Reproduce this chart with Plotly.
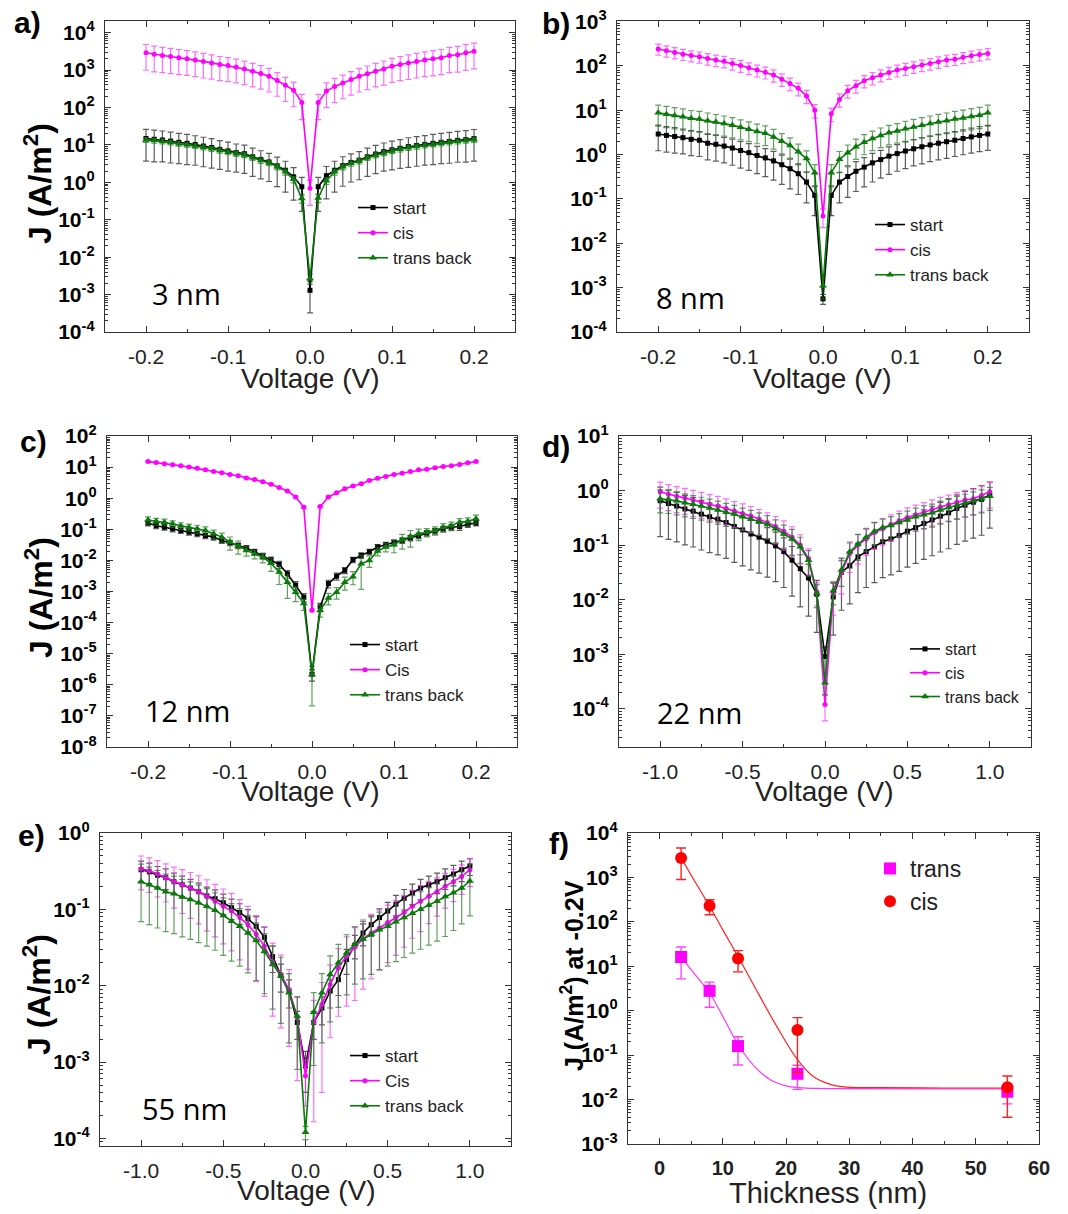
"""
J-V curves of the switchable junctions for five thicknesses, and J at -0.2 V vs thickness.
"""

import plotly.graph_objects as go

FONT = "Liberation Sans"
NM_FONT = "Open Sans"
W, H = 1068, 1214
PAGE_OFFSET = 8  # the html body adds an 8 px margin around the figure

# ---------------------------------------------------------------- data
V_SMALL = [-0.20, -0.19, -0.18, -0.17, -0.16, -0.15, -0.14, -0.13, -0.12, -0.11,
           -0.10, -0.09, -0.08, -0.07, -0.06, -0.05, -0.04, -0.03, -0.02, -0.01,
           0.00, 0.01, 0.02, 0.03, 0.04, 0.05, 0.06, 0.07, 0.08, 0.09,
           0.10, 0.11, 0.12, 0.13, 0.14, 0.15, 0.16, 0.17, 0.18, 0.19, 0.20]
V_WIDE = [-1.00, -0.95, -0.90, -0.85, -0.80, -0.75, -0.70, -0.65, -0.60, -0.55,
          -0.50, -0.45, -0.40, -0.35, -0.30, -0.25, -0.20, -0.15, -0.10, -0.05,
          0.00, 0.05, 0.10, 0.15, 0.20, 0.25, 0.30, 0.35, 0.40, 0.45,
          0.50, 0.55, 0.60, 0.65, 0.70, 0.75, 0.80, 0.85, 0.90, 0.95, 1.00]

# a) 3 nm
A_START = [14.8, 14.1, 13.5, 12.6, 11.7, 11.0, 10.2, 9.3, 8.5, 7.6, 6.9, 6.2, 5.8, 4.8,
           4.1, 3.5, 2.75, 2.1, 1.4, 0.76, 1.3e-3, 0.76, 1.5, 2.1, 2.8, 3.4, 3.9, 4.8,
           5.7, 6.6, 7.4, 8.1, 9.0, 9.6, 10.3, 11.0, 11.7, 12.4, 13.2, 13.8, 14.7]
A_CIS = [2900, 2630, 2450, 2290, 2140, 2000, 1860, 1700, 1550, 1410, 1320, 1200, 1070,
         930, 810, 680, 525, 390, 290, 135, 0.69, 135, 275, 365, 450, 560, 680, 790,
         930, 1070, 1260, 1410, 1550, 1700, 1860, 2000, 2140, 2450, 2570, 2880, 3160]
A_TRANS = [13.6, 13.0, 12.4, 11.6, 10.8, 10.1, 9.4, 8.6, 7.9, 7.1, 6.4, 5.8, 5.4, 4.5,
           3.8, 3.3, 2.6, 1.9, 1.2, 0.37, 2.7e-3, 0.38, 1.1, 1.9, 2.6, 3.2, 3.7, 4.5,
           5.3, 6.1, 6.9, 7.6, 8.4, 9.0, 9.7, 10.3, 11.0, 11.7, 12.4, 13.0, 13.8]
# relative error bars (error / value)
A_START_REL = [0.75, 0.75, 0.74, 0.74, 0.73, 0.73, 0.72, 0.72, 0.72, 0.71, 0.71, 0.70,
               0.70, 0.70, 0.70, 0.70, 0.72, 0.74, 0.76, 0.78, 0.75, 0.78, 0.76, 0.74,
               0.72, 0.70, 0.70, 0.70, 0.70, 0.70, 0.71, 0.71, 0.72, 0.72, 0.72, 0.73,
               0.73, 0.74, 0.74, 0.75, 0.75]
A_CIS_REL = [0.66, 0.66, 0.65, 0.65, 0.65, 0.64, 0.64, 0.64, 0.63, 0.63, 0.63, 0.62,
             0.62, 0.62, 0.62, 0.62, 0.62, 0.63, 0.64, 0.65, 0.65, 0.65, 0.64, 0.63,
             0.62, 0.62, 0.62, 0.62, 0.62, 0.63, 0.63, 0.63, 0.64, 0.64, 0.64, 0.65,
             0.65, 0.65, 0.66, 0.66, 0.66]
A_TRANS_REL = [0.15, 0.15, 0.15, 0.14, 0.14, 0.14, 0.14, 0.15, 0.15, 0.15, 0.15, 0.15,
               0.15, 0.15, 0.16, 0.16, 0.17, 0.18, 0.20, 0.25, 0.30, 0.25, 0.20, 0.18,
               0.17, 0.16, 0.16, 0.15, 0.15, 0.15, 0.15, 0.15, 0.15, 0.15, 0.14, 0.14,
               0.14, 0.14, 0.15, 0.15, 0.15]

# b) 8 nm
B_START = [2.9, 2.7, 2.55, 2.4, 2.2, 2.1, 1.8, 1.7, 1.55, 1.4, 1.23, 1.1, 0.95, 0.84,
           0.72, 0.59, 0.48, 0.37, 0.24, 0.12, 5.6e-4, 0.12, 0.24, 0.32, 0.42, 0.52,
           0.65, 0.77, 0.92, 1.05, 1.2, 1.35, 1.5, 1.65, 1.8, 1.95, 2.1, 2.3, 2.5, 2.7, 2.9]
B_CIS = [240, 219, 200, 183, 170, 160, 146, 135, 126, 113, 102, 90, 80, 72, 62, 50, 40,
         31, 21, 10, 0.041, 8.3, 17.5, 27.5, 35.5, 46, 54, 62, 71, 80, 87, 95, 104, 113,
         123, 135, 141, 155, 168, 180, 190]
B_TRANS = [8.7, 8.1, 7.6, 7.1, 6.6, 6.3, 5.8, 5.4, 5.0, 4.6, 4.1, 3.7, 3.3, 3.0, 2.5,
           2.0, 1.6, 1.15, 0.81, 0.39, 1.1e-3, 0.39, 0.78, 1.1, 1.5, 1.9, 2.3, 2.7, 3.1,
           3.4, 3.8, 4.2, 4.6, 5.0, 5.4, 5.8, 6.3, 6.7, 7.2, 7.7, 8.7]
B_START_REL = [0.58, 0.58, 0.58, 0.57, 0.57, 0.57, 0.58, 0.58, 0.58, 0.59, 0.60, 0.60,
               0.61, 0.62, 0.63, 0.64, 0.65, 0.66, 0.66, 0.65, 0.25, 0.65, 0.66, 0.66,
               0.65, 0.64, 0.63, 0.62, 0.61, 0.60, 0.60, 0.59, 0.59, 0.58, 0.58, 0.58,
               0.57, 0.57, 0.57, 0.57, 0.57]
B_CIS_REL = [0.28, 0.28, 0.28, 0.28, 0.28, 0.28, 0.29, 0.29, 0.29, 0.29, 0.30, 0.30,
             0.30, 0.30, 0.31, 0.31, 0.32, 0.32, 0.33, 0.34, 0.45, 0.34, 0.33, 0.32,
             0.32, 0.31, 0.31, 0.30, 0.30, 0.30, 0.30, 0.29, 0.29, 0.29, 0.29, 0.28,
             0.28, 0.28, 0.28, 0.28, 0.28]
B_TRANS_REL = [0.50, 0.50, 0.50, 0.50, 0.49, 0.49, 0.49, 0.48, 0.48, 0.48, 0.48, 0.47,
               0.47, 0.47, 0.47, 0.48, 0.48, 0.49, 0.50, 0.52, 0.50, 0.52, 0.50, 0.49,
               0.48, 0.48, 0.47, 0.47, 0.47, 0.47, 0.48, 0.48, 0.48, 0.48, 0.49, 0.49,
               0.49, 0.50, 0.50, 0.50, 0.50]

# c) 12 nm
C_START = [0.16, 0.13, 0.117, 0.104, 0.092, 0.081, 0.072, 0.063, 0.056, 0.044, 0.037,
           0.030, 0.025, 0.019, 0.0138, 0.0105, 0.0074, 0.0037, 0.0016, 6.6e-4, 2.2e-6,
           3.2e-4, 1.8e-3, 3.1e-3, 4.8e-3, 0.0105, 0.0145, 0.019, 0.027, 0.032, 0.037,
           0.044, 0.053, 0.063, 0.076, 0.088, 0.104, 0.117, 0.123, 0.144, 0.16]
C_CIS = [15, 14, 12.8, 11.8, 11, 10, 9.1, 8.2, 7.2, 6.6, 5.8, 5.3, 4.5, 4.0, 3.4, 2.8,
         2.2, 1.7, 1.1, 0.51, 2.5e-4, 0.54, 1.1, 1.5, 2.0, 2.45, 2.9, 3.7, 4.4, 5.0, 5.8,
         6.4, 7.2, 8.2, 8.6, 9.5, 10.5, 11, 12.2, 13.8, 15]
C_TRANS = [0.20, 0.18, 0.17, 0.15, 0.13, 0.117, 0.104, 0.092, 0.072, 0.056, 0.039, 0.029,
           0.021, 0.016, 0.0128, 0.0081, 0.0042, 0.0020, 9.5e-4, 4.1e-4, 2.1e-6, 2.5e-4,
           6.2e-4, 9.5e-4, 2.0e-3, 3.0e-3, 7.8e-3, 0.010, 0.020, 0.027, 0.032, 0.046,
           0.059, 0.072, 0.081, 0.092, 0.117, 0.13, 0.17, 0.18, 0.22]
C_START_REL = [0.20, 0.20, 0.20, 0.20, 0.20, 0.20, 0.20, 0.20, 0.20, 0.20, 0.20, 0.20,
               0.20, 0.20, 0.20, 0.22, 0.25, 0.28, 0.30, 0.30, 0.40, 0.30, 0.28, 0.25,
               0.22, 0.20, 0.20, 0.20, 0.20, 0.20, 0.20, 0.20, 0.20, 0.20, 0.20, 0.20,
               0.20, 0.20, 0.25, 0.20, 0.20]
C_TRANS_REL = [0.25, 0.25, 0.25, 0.25, 0.25, 0.25, 0.30, 0.30, 0.30, 0.35, 0.45, 0.45,
               0.35, 0.30, 0.35, 0.45, 0.60, 0.70, 0.50, 0.40, 0.90, 0.40, 0.40, 0.40,
               0.45, 0.45, 0.85, 0.40, 0.30, 0.30, 0.45, 0.50, 0.55, 0.40, 0.30, 0.30,
               0.30, 0.30, 0.30, 0.30, 0.30]
C_CIS_REL = [0.05, 0.05, 0.05, 0.05, 0.05, 0.05, 0.05, 0.05, 0.05, 0.05, 0.05, 0.05,
             0.05, 0.05, 0.05, 0.05, 0.05, 0.05, 0.06, 0.08, 0.10, 0.08, 0.06, 0.05,
             0.05, 0.05, 0.05, 0.05, 0.05, 0.05, 0.05, 0.05, 0.05, 0.05, 0.05, 0.05,
             0.05, 0.05, 0.05, 0.05, 0.05]

# d) 22 nm
D_START = [0.65, 0.58, 0.52, 0.46, 0.42, 0.37, 0.33, 0.30, 0.26, 0.22, 0.19, 0.16, 0.14,
           0.118, 0.097, 0.076, 0.053, 0.037, 0.025, 0.0126, 9.1e-4, 0.0112, 0.032, 0.042,
           0.061, 0.076, 0.093, 0.115, 0.13, 0.15, 0.18, 0.21, 0.25, 0.29, 0.34, 0.39,
           0.47, 0.54, 0.61, 0.69, 0.82]
D_CIS = [0.95, 0.86, 0.79, 0.73, 0.67, 0.62, 0.56, 0.52, 0.47, 0.42, 0.38, 0.34, 0.30,
         0.26, 0.22, 0.18, 0.14, 0.10, 0.057, 0.014, 1.2e-4, 0.013, 0.032, 0.070, 0.10,
         0.13, 0.17, 0.20, 0.24, 0.28, 0.32, 0.36, 0.40, 0.45, 0.50, 0.55, 0.61, 0.67,
         0.71, 0.81, 0.95]
D_TRANS = [0.71, 0.69, 0.65, 0.60, 0.56, 0.52, 0.48, 0.44, 0.40, 0.37, 0.33, 0.30, 0.27,
           0.24, 0.20, 0.16, 0.13, 0.093, 0.053, 0.013, 3.0e-4, 0.0146, 0.035, 0.076,
           0.105, 0.14, 0.18, 0.21, 0.23, 0.26, 0.29, 0.33, 0.36, 0.39, 0.44, 0.49, 0.54,
           0.59, 0.65, 0.71, 0.79]
D_START_REL = [0.78, 0.78, 0.78, 0.78, 0.78, 0.78, 0.78, 0.78, 0.78, 0.78, 0.78, 0.78,
               0.78, 0.78, 0.78, 0.78, 0.78, 0.80, 0.80, 0.80, 0.50, 0.80, 0.80, 0.80,
               0.78, 0.78, 0.78, 0.78, 0.78, 0.78, 0.78, 0.78, 0.78, 0.78, 0.78, 0.78,
               0.78, 0.78, 0.78, 0.78, 0.75]
D_CIS_REL = [0.50, 0.50, 0.50, 0.50, 0.50, 0.50, 0.50, 0.50, 0.50, 0.50, 0.50, 0.50,
             0.50, 0.50, 0.52, 0.55, 0.55, 0.55, 0.50, 0.45, 0.50, 0.60, 0.60, 0.55,
             0.55, 0.50, 0.50, 0.50, 0.50, 0.50, 0.50, 0.50, 0.50, 0.50, 0.50, 0.50,
             0.50, 0.50, 0.50, 0.50, 0.50]
D_TRANS_REL = [0.45, 0.45, 0.45, 0.45, 0.45, 0.45, 0.45, 0.45, 0.45, 0.45, 0.45, 0.45,
               0.45, 0.45, 0.45, 0.45, 0.50, 0.50, 0.50, 0.45, 0.40, 0.45, 0.50, 0.50,
               0.50, 0.45, 0.45, 0.45, 0.45, 0.45, 0.45, 0.45, 0.45, 0.45, 0.45, 0.45,
               0.45, 0.45, 0.45, 0.45, 0.45]

# e) 55 nm
E_START = [0.33, 0.31, 0.28, 0.26, 0.23, 0.21, 0.19, 0.17, 0.15, 0.138, 0.122, 0.105,
           0.091, 0.075, 0.060, 0.043, 0.024, 0.0137, 0.0085, 0.0033, 8.9e-4, 0.0033,
           0.0051, 0.0085, 0.012, 0.022, 0.034, 0.049, 0.063, 0.078, 0.095, 0.117, 0.14,
           0.165, 0.19, 0.21, 0.23, 0.26, 0.29, 0.33, 0.37]
E_CIS = [0.34, 0.32, 0.29, 0.26, 0.23, 0.21, 0.19, 0.17, 0.148, 0.128, 0.11, 0.095, 0.078,
         0.063, 0.047, 0.033, 0.020, 0.014, 0.0089, 0.0038, 6.6e-4, 0.0033, 0.0057, 0.0104,
         0.0173, 0.0245, 0.032, 0.041, 0.049, 0.057, 0.067, 0.078, 0.091, 0.11, 0.128,
         0.148, 0.17, 0.20, 0.23, 0.27, 0.33]
E_TRANS = [0.23, 0.21, 0.19, 0.17, 0.16, 0.145, 0.135, 0.122, 0.11, 0.097, 0.083, 0.070,
           0.060, 0.049, 0.039, 0.028, 0.019, 0.0134, 0.0081, 0.0040, 1.2e-4, 0.0045,
           0.0081, 0.014, 0.020, 0.027, 0.035, 0.041, 0.047, 0.054, 0.060, 0.069, 0.078,
           0.089, 0.10, 0.113, 0.128, 0.147, 0.165, 0.19, 0.235]
E_START_REL = [0.30, 0.30, 0.30, 0.30, 0.30, 0.30, 0.30, 0.30, 0.30, 0.30, 0.30, 0.30,
               0.30, 0.32, 0.34, 0.36, 0.38, 0.40, 0.40, 0.40, 0.55, 0.40, 0.40, 0.40,
               0.38, 0.36, 0.34, 0.32, 0.30, 0.30, 0.30, 0.30, 0.30, 0.30, 0.30, 0.30,
               0.30, 0.30, 0.30, 0.30, 0.25]
E_CIS_REL = [0.47, 0.48, 0.50, 0.52, 0.55, 0.58, 0.60, 0.62, 0.65, 0.66, 0.68, 0.70,
             0.72, 0.74, 0.76, 0.78, 0.80, 0.80, 0.82, 0.85, 0.60, 0.95, 0.93, 0.80,
             0.77, 0.78, 0.80, 0.78, 0.75, 0.72, 0.70, 0.68, 0.65, 0.62, 0.60, 0.56,
             0.52, 0.48, 0.45, 0.42, 0.40]
E_TRANS_REL = [0.70, 0.70, 0.70, 0.70, 0.70, 0.70, 0.70, 0.70, 0.70, 0.70, 0.70, 0.70,
               0.70, 0.70, 0.70, 0.72, 0.74, 0.76, 0.78, 0.80, 0.20, 0.80, 0.78, 0.76,
               0.74, 0.72, 0.70, 0.70, 0.70, 0.70, 0.70, 0.70, 0.70, 0.70, 0.70, 0.70,
               0.70, 0.70, 0.68, 0.66, 0.65]

# f) J at -0.2 V vs thickness
F_THICK = [3.4, 7.9, 12.4, 21.8, 55]
F_TRANS = [16.2, 2.8, 0.16, 0.038, 0.015]
F_TRANS_ERR = [11, 1.6, 0.1, 0.021, 0.007]
F_CIS = [2750, 230, 15, 0.37, 0.019]
F_CIS_ERR = [1850, 85, 7.5, 0.33, 0.015]
F_CIS_FIT_X = [3.4, 5, 7.9, 10, 12.4, 15, 18.5, 21.8, 24.3, 27, 29.6, 35, 45, 55]
F_CIS_FIT_Y = [2750, 1120, 225, 66, 16.6, 3.5, 0.45, 0.079, 0.033, 0.022, 0.019, 0.0186,
               0.0182, 0.0182]
F_TRANS_FIT_X = [3.4, 5, 7.9, 10, 12.4, 15, 17.5, 20, 22, 25, 30, 40, 55]
F_TRANS_FIT_Y = [16.2, 8.3, 2.5, 0.74, 0.174, 0.056, 0.028, 0.0204, 0.0186, 0.0178,
                 0.0176, 0.0174, 0.0174]

# decade tick labels for each panel
A_DECADES = [-4, -3, -2, -1, 0, 1, 2, 3, 4]
B_DECADES = [-4, -3, -2, -1, 0, 1, 2, 3]
C_DECADES = [-8, -7, -6, -5, -4, -3, -2, -1, 0, 1, 2]
D_DECADES = [-4, -3, -2, -1, 0, 1]
E_DECADES = [-4, -3, -2, -1, 0]
F_DECADES = [-3, -2, -1, 0, 1, 2, 3, 4]

SMALL_TICKS = [-0.2, -0.1, 0.0, 0.1, 0.2]
SMALL_TEXT = ["-0.2", "-0.1", "0.0", "0.1", "0.2"]
WIDE_TICKS = [-1.0, -0.5, 0.0, 0.5, 1.0]
WIDE_TEXT = ["-1.0", "-0.5", "0.0", "0.5", "1.0"]
THICK_TICKS = [0, 10, 20, 30, 40, 50, 60]

# ---------------------------------------------------------------- styles
COLORS = {"start": "#000000", "cis": "#ff00ff", "trans": "#0a7a0a"}
ERR_COLORS = {
    "start": "rgba(50,50,50,0.8)",
    "cis": "rgba(255,60,255,0.75)",
    "trans": "rgba(30,120,30,0.7)",
}
MARKERS = {
    "start": dict(symbol="square", size=5),
    "cis": dict(symbol="circle", size=5),
    "trans": dict(symbol="triangle-up", size=7),
}

# panel boxes in page pixels: (left, top, right, bottom)
PANELS = [
    dict(box=(105, 21, 515, 332), x=V_SMALL, xr=[-0.25, 0.25], yr=[-4, 4.31],
         dec=A_DECADES, ticks=(SMALL_TICKS, SMALL_TEXT), minor=0.05,
         series=[(A_START, A_START_REL, "start", "start"),
                 (A_CIS, A_CIS_REL, "cis", "cis"),
                 (A_TRANS, A_TRANS_REL, "trans", "trans back")],
         legend=(353, 233), fs=17),
    dict(box=(617, 21, 1029, 332), x=V_SMALL, xr=[-0.25, 0.25], yr=[-4, 3.01],
         dec=B_DECADES, ticks=(SMALL_TICKS, SMALL_TEXT), minor=0.05,
         series=[(B_START, B_START_REL, "start", "start"),
                 (B_CIS, B_CIS_REL, "cis", "cis"),
                 (B_TRANS, B_TRANS_REL, "trans", "trans back")],
         legend=(870, 250), fs=17),
    dict(box=(107, 436, 517, 747), x=V_SMALL, xr=[-0.25, 0.25], yr=[-8, 2],
         dec=C_DECADES, ticks=(SMALL_TICKS, SMALL_TEXT), minor=0.05,
         series=[(C_START, C_START_REL, "start", "start"),
                 (C_CIS, C_CIS_REL, "cis", "Cis"),
                 (C_TRANS, C_TRANS_REL, "trans", "trans back")],
         legend=(345, 670), fs=17),
    dict(box=(619, 436, 1031, 747), x=V_WIDE, xr=[-1.25, 1.25], yr=[-4.7, 1],
         dec=D_DECADES, ticks=(WIDE_TICKS, WIDE_TEXT), minor=0.25,
         series=[(D_START, D_START_REL, "start", "start"),
                 (D_CIS, D_CIS_REL, "cis", "cis"),
                 (D_TRANS, D_TRANS_REL, "trans", "trans back")],
         legend=(905, 673), fs=16),
    dict(box=(100, 833, 511, 1146), x=V_WIDE, xr=[-1.25, 1.25], yr=[-4.1, 0],
         dec=E_DECADES, ticks=(WIDE_TICKS, WIDE_TEXT), minor=0.25,
         series=[(E_START, E_START_REL, "start", "start"),
                 (E_CIS, E_CIS_REL, "cis", "Cis"),
                 (E_TRANS, E_TRANS_REL, "trans", "trans back")],
         legend=(345, 1081), fs=17),
]
F_BOX = (628, 833, 1039, 1144)


def fx(p):
    return (p - PAGE_OFFSET) / W


def fy(p):
    return 1 - (p - PAGE_OFFSET) / H


def axis_names(i):
    return ("x", "y", "legend") if i == 1 else (f"x{i}", f"y{i}", f"legend{i}")


def log_axis(box, yr, decades):
    minor_vals = [m * 10.0 ** d for d in range(decades[0] - 1, decades[-1] + 1)
                  for m in range(2, 10)]
    return dict(
        type="log",
        domain=[fy(box[3]), fy(box[1])],
        range=yr,
        tickmode="array",
        tickvals=[10.0 ** d for d in decades],
        ticktext=[f"10<sup>{d}</sup>" for d in decades],
        tickfont=dict(family=FONT, size=21, color="black", weight="bold"),
        ticks="inside", ticklen=6, tickwidth=1.3, tickcolor="#333",
        ticklabelstandoff=5, ticklabeloverflow="allow",
        minor=dict(tickmode="array", tickvals=minor_vals, ticks="inside",
                   ticklen=3, tickwidth=1, tickcolor="#333"),
        showline=True, linecolor="#333", linewidth=1.4, mirror="allticks",
        showgrid=False, zeroline=False, automargin=False,
    )


def lin_axis(box, xr, tickvals, ticktext, minor_dtick, bold=False):
    return dict(
        domain=[fx(box[0]), fx(box[2])],
        range=xr,
        tickmode="array",
        tickvals=tickvals,
        ticktext=ticktext,
        tickfont=dict(family=FONT, size=21 if not bold else 20, color="#222",
                      weight="bold" if bold else "normal"),
        ticks="inside", ticklen=6, tickwidth=1.3, tickcolor="#333",
        ticklabelstandoff=6, ticklabeloverflow="allow",
        minor=dict(dtick=minor_dtick, ticks="inside", ticklen=3, tickwidth=1,
                   tickcolor="#333"),
        showline=True, linecolor="#333", linewidth=1.4, mirror="allticks",
        showgrid=False, zeroline=False, automargin=False,
    )


fig = go.Figure()
layout = {}

# J-V panels a) - e)
for i, p in enumerate(PANELS, start=1):
    xa, ya, lg = axis_names(i)
    for vals, rel, key, label in p["series"]:
        fig.add_trace(
            go.Scatter(
                x=p["x"],
                y=vals,
                xaxis=xa,
                yaxis=ya,
                mode="lines+markers",
                name=label,
                legend=lg,
                line=dict(color=COLORS[key], width=1.6),
                marker=dict(color=COLORS[key], **MARKERS[key]),
                error_y=dict(type="data", array=[r * v for r, v in zip(rel, vals)],
                             color=ERR_COLORS[key], thickness=1.2, width=3),
            )
        )
    layout["xaxis" if i == 1 else f"xaxis{i}"] = dict(
        anchor=ya, **lin_axis(p["box"], p["xr"], *p["ticks"], p["minor"]))
    layout["yaxis" if i == 1 else f"yaxis{i}"] = dict(
        anchor=xa, **log_axis(p["box"], p["yr"], p["dec"]))
    layout[lg] = dict(
        x=fx(p["legend"][0]), y=fy(p["legend"][1]), xanchor="left", yanchor="middle",
        bgcolor="rgba(0,0,0,0)", font=dict(family=FONT, size=p["fs"], color="#222"),
        tracegroupgap=0, itemwidth=30,
    )

# f) thickness dependence
fig.add_trace(go.Scatter(x=F_TRANS_FIT_X, y=F_TRANS_FIT_Y, xaxis="x6", yaxis="y6",
                         mode="lines", line=dict(color="#ff33ff", width=1.2, shape="spline"),
                         showlegend=False, legend="legend6"))
fig.add_trace(go.Scatter(x=F_CIS_FIT_X, y=F_CIS_FIT_Y, xaxis="x6", yaxis="y6",
                         mode="lines", line=dict(color="#ff2020", width=1.2, shape="spline"),
                         showlegend=False, legend="legend6"))
fig.add_trace(go.Scatter(x=F_THICK, y=F_TRANS, xaxis="x6", yaxis="y6", mode="markers",
                         name="trans", legend="legend6",
                         marker=dict(symbol="square", size=12, color="#ff00ff"),
                         error_y=dict(type="data", array=F_TRANS_ERR, color="#ff44ff",
                                      thickness=1.4, width=5)))
fig.add_trace(go.Scatter(x=F_THICK, y=F_CIS, xaxis="x6", yaxis="y6", mode="markers",
                         name="cis", legend="legend6",
                         marker=dict(symbol="circle", size=12, color="#ff0000"),
                         error_y=dict(type="data", array=F_CIS_ERR, color="#ff2020",
                                      thickness=1.4, width=5)))
layout["xaxis6"] = dict(anchor="y6", **lin_axis(F_BOX, [-5, 60], THICK_TICKS,
                                                [str(t) for t in THICK_TICKS], 5, bold=True))
layout["yaxis6"] = dict(anchor="x6", **log_axis(F_BOX, [-3, 4], F_DECADES))
layout["legend6"] = dict(
    x=fx(870), y=fy(885), xanchor="left", yanchor="middle", bgcolor="rgba(0,0,0,0)",
    font=dict(family=FONT, size=23, color="#222"), tracegroupgap=0, itemwidth=30,
)

# ---------------------------------------------------------------- text
annotations = []


def add_text(text, x, y, size, bold=False, angle=0, family=FONT, xanchor="center",
             color="#222"):
    annotations.append(dict(
        text=text, x=fx(x), y=fy(y), xref="paper", yref="paper", showarrow=False,
        xanchor=xanchor, yanchor="middle", textangle=angle,
        font=dict(family=family, size=size, color=color,
                  weight="bold" if bold else "normal"),
    ))


for lab, x, y in [("a)", 27, 22), ("b)", 556, 24), ("c)", 33, 441), ("d)", 556, 447),
                  ("e)", 31, 835), ("f)", 559, 843)]:
    add_text(lab, x, y, 30, bold=True, color="black")

for lab, x, y in [("3 nm", 150, 293), ("8 nm", 654, 297), ("12 nm", 143, 710),
                  ("22 nm", 655, 712), ("55 nm", 140, 1108)]:
    add_text(lab, x, y, 29, family=NM_FONT, xanchor="left", color="black")

for x, y in [(310, 378), (822, 378), (310, 792), (824, 792), (306, 1190)]:
    add_text("Voltage (V)", x, y, 28)
add_text("Thickness (nm)", 828, 1193, 29)

for x, y in [(38, 184), (39, 598), (37, 995)]:
    add_text("J (A/m<sup>2</sup>)", x, y, 32, bold=True, angle=-90, color="black")
add_text("J (A/m<sup>2</sup>) at -0.2V", 572, 976, 25, bold=True, angle=-90, color="black")

fig.update_layout(
    width=W,
    height=H,
    autosize=False,
    margin=dict(l=0, r=0, t=0, b=0, pad=0, autoexpand=False),
    paper_bgcolor="white",
    plot_bgcolor="white",
    annotations=annotations,
    **layout,
)

fig.write_html("out.html")
